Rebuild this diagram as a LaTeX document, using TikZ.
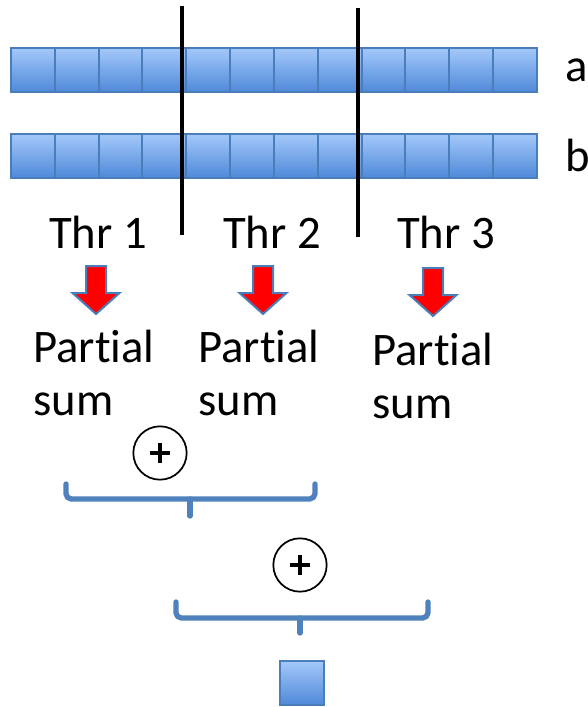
\documentclass[tikz,border=0pt]{standalone}
\usepackage{fontspec}
\setmainfont[Ligatures=NoCommon]{Carlito}
\definecolor{cellT}{HTML}{A3C8FA}
\definecolor{cellB}{HTML}{4F89D9}
\definecolor{cellE}{HTML}{4A7EBB}
\definecolor{brc}{HTML}{4F81BD}
\begin{document}
\begin{tikzpicture}[x=0.75pt,y=-0.75pt,
  cell/.style={draw=cellE,line width=1.5pt,top color=cellT,bottom color=cellB,minimum width=32.8pt,minimum height=33pt,inner sep=0pt,anchor=north west},
  lbl/.style={font=\fontsize{35}{40}\selectfont,inner sep=0pt},
  txt/.style={font=\fontsize{35}{39.75}\selectfont,inner sep=0pt,align=left,anchor=base west},
  divider/.style={line width=3pt,black},
  redarrow/.style={fill=red,draw=cellE,line width=1.5pt,line join=miter},
  plus/.style={circle,draw=black,line width=1.3pt,minimum size=40pt,inner sep=0pt},
  plusbar/.style={line width=2.5pt,black},
  bracket/.style={draw=brc,line width=4pt,line cap=round,line join=round,rounded corners=4pt}]
\useasboundingbox (0,0) rectangle (588,707);
% rows
\foreach \i in {0,...,11}{
  \node[cell] (a\i) at ({10+\i*43.83},47) {};
  \node[cell] (b\i) at ({10+\i*43.83},133) {};
}
\node[lbl,anchor=west] (la) at (565,70) {a};
\node[lbl,anchor=west] (lb) at (565,155) {b};
% dividers
\coordinate (d1t) at (182,6); \coordinate (d1b) at (182,235);
\coordinate (d2t) at (358,8); \coordinate (d2b) at (358,237);
\draw[divider] (d1t) -- (d1b);
\draw[divider] (d2t) -- (d2b);
% thread labels
\node[lbl] (t1) at (98,232) {Thr 1};
\node[lbl] (t2) at (272,232) {Thr 2};
\node[lbl] (t3) at (446,232) {Thr 3};
% red arrows
\foreach \n/\cx/\ty in {1/96/266,2/263/266,3/433/268}{
  \draw[redarrow] (\cx-10,\ty) -- (\cx+10,\ty) -- (\cx+10,\ty+27) -- (\cx+23.5,\ty+27)
     -- (\cx,\ty+48) -- (\cx-23.5,\ty+27) -- (\cx-10,\ty+27) -- cycle;
}
% partial sums (anchor at baseline of last line)
\node[txt] (p1) at (33,415) {Partial\\sum};
\node[txt] (p2) at (198,415) {Partial\\sum};
\node[txt] (p3) at (372,418) {Partial\\sum};
% first reduction
\node[plus] (c1) at (160,453) {};
\draw[plusbar] ([xshift=-7.5pt]c1.center) -- ([xshift=7.5pt]c1.center);
\draw[plusbar] ([yshift=-7.5pt]c1.center) -- ([yshift=7.5pt]c1.center);
\coordinate (b1l) at (66,484); \coordinate (b1r) at (315,484);
\coordinate (b1m) at (190,499); \coordinate (b1t) at (190,516);
\draw[bracket] (b1l) -- (66,499) -- (315,499) -- (b1r);
\draw[bracket] (b1m) -- (b1t);
% second reduction
\node[plus] (c2) at (300,565) {};
\draw[plusbar] ([xshift=-7.5pt]c2.center) -- ([xshift=7.5pt]c2.center);
\draw[plusbar] ([yshift=-7.5pt]c2.center) -- ([yshift=7.5pt]c2.center);
\coordinate (b2l) at (176,602); \coordinate (b2r) at (428,602);
\coordinate (b2m) at (300,618); \coordinate (b2t) at (300,633);
\draw[bracket] (b2l) -- (176,618) -- (428,618) -- (b2r);
\draw[bracket] (b2m) -- (b2t);
% result
\node[cell] (res) at (279,660) {};
\end{tikzpicture}
\end{document}
